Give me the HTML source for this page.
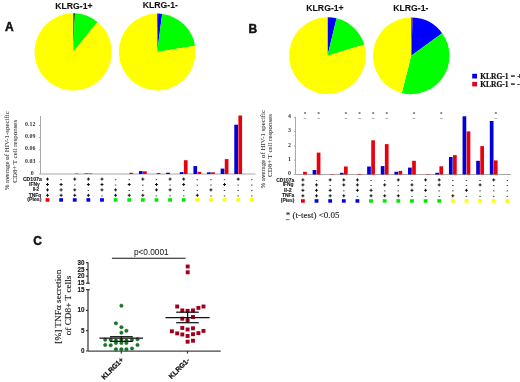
<!DOCTYPE html>
<html><head><meta charset="utf-8"><style>
*{margin:0;padding:0}
html,body{width:520px;height:382px;background:#fff;overflow:hidden}
svg{display:block;will-change:transform}
text{font-family:"Liberation Sans",sans-serif}
.pt{font-weight:bold;font-size:8.7px;text-anchor:middle;fill:#111;stroke:#111;stroke-width:0.1px}
.pl{font-weight:bold;font-size:12px;fill:#111;stroke:#111;stroke-width:0.45px}
.lg{font-family:"Liberation Serif",serif;font-weight:bold;font-size:7.5px;fill:#111;stroke:#111;stroke-width:0.2px;word-spacing:0.4px}
.ax{stroke:#A8A8A8;stroke-width:1}
.tk{font-family:"Liberation Serif",serif;font-weight:bold;font-size:5.9px;text-anchor:end;fill:#333}
.pl1{stroke:#111;stroke-width:1;fill:none}
.mi{stroke:#333;stroke-width:0.8}
.rl{font-weight:bold;font-size:4.8px;fill:#222;stroke:#222;stroke-width:0.12px}
.yt{font-family:"Liberation Serif",serif;font-size:6.9px;text-anchor:middle;fill:#333;stroke:#333;stroke-width:0.05px}
.ast{font-size:5px;text-anchor:middle;fill:#555}
.astl{stroke:#999;stroke-width:0.8}
.fn{font-family:"Liberation Serif",serif;font-size:9px;fill:#222;stroke:#222;stroke-width:0.12px}
.cax line{stroke:#333;stroke-width:1.2}
.ct{font-weight:bold;font-size:6.3px;text-anchor:end;fill:#111;stroke:#111;stroke-width:0.1px}
.cyt{font-family:"Liberation Serif",serif;font-size:9.27px;text-anchor:middle;fill:#222;stroke:#222;stroke-width:0.15px}
.pv{font-size:8.3px;text-anchor:middle;fill:#111}
.cx{font-weight:bold;font-size:7px;fill:#111;stroke:#111;stroke-width:0.25px}
</style></head>
<body><svg width="520" height="382" viewBox="0 0 520 382">
<path d="M73.20,51.90 L73.20,13.30 A38.6,38.6 0 0 1 74.95,13.34 Z" fill="#103010"/><path d="M73.20,51.90 L74.95,13.34 A38.6,38.6 0 0 1 97.49,21.90 Z" fill="#00FF00"/><path d="M73.20,51.90 L97.49,21.90 A38.6,38.6 0 1 1 73.20,13.30 Z" fill="#FFFF00"/>
<path d="M157.20,52.00 L157.20,13.60 A38.4,38.4 0 0 1 158.21,13.61 Z" fill="#000060"/><path d="M157.20,52.00 L158.21,13.61 A38.4,38.4 0 0 1 162.15,13.92 Z" fill="#0000FF"/><path d="M157.20,52.00 L162.15,13.92 A38.4,38.4 0 0 1 195.07,45.66 Z" fill="#00FF00"/><path d="M157.20,52.00 L195.07,45.66 A38.4,38.4 0 1 1 157.20,13.60 Z" fill="#FFFF00"/>
<path d="M327.50,55.65 L327.50,17.25 A38.4,38.4 0 0 1 336.59,18.34 Z" fill="#0000FF"/><path d="M327.50,55.65 L336.59,18.34 A38.4,38.4 0 0 1 364.22,44.42 Z" fill="#00FF00"/><path d="M327.50,55.65 L364.22,44.42 A38.4,38.4 0 1 1 327.50,17.25 Z" fill="#FFFF00"/>
<path d="M411.20,55.80 L411.20,17.50 A38.3,38.3 0 0 1 412.67,17.53 Z" fill="#900000"/><path d="M411.20,55.80 L412.67,17.53 A38.3,38.3 0 0 1 442.11,33.18 Z" fill="#0000FF"/><path d="M411.20,55.80 L442.11,33.18 A38.3,38.3 0 0 1 401.80,92.93 Z" fill="#00FF00"/><path d="M411.20,55.80 L401.80,92.93 A38.3,38.3 0 0 1 411.20,17.50 Z" fill="#FFFF00"/>
<text x="73.9" y="8.6" class="pt">KLRG-1+</text>
<text x="160.3" y="8.4" class="pt">KLRG-1-</text>
<text x="325" y="11" class="pt">KLRG-1+</text>
<text x="410.8" y="11" class="pt">KLRG-1-</text>
<text x="5.1" y="30.6" class="pl">A</text>
<text x="248.6" y="32.6" class="pl">B</text>
<text x="33.2" y="244.6" class="pl">C</text>
<rect x="472.2" y="73.8" width="4.8" height="4.7" fill="#0000E0"/>
<rect x="472.2" y="81.9" width="4.8" height="4.5" fill="#E00020"/>
<text x="480.2" y="79.2" class="lg">KLRG-1 = +</text>
<text x="480.2" y="87.2" class="lg">KLRG-1 = -</text>
<line x1="40.5" y1="116" x2="40.5" y2="174" class="ax"/>
<line x1="40.5" y1="174" x2="255.5" y2="174" class="ax"/>
<line x1="39.0" y1="174" x2="40.5" y2="174" class="ax"/>
<text x="33.8" y="174.6" class="tk">0</text>
<line x1="39.0" y1="161.9" x2="40.5" y2="161.9" class="ax"/>
<text x="35.4" y="162.5" class="tk">0.03</text>
<line x1="39.0" y1="149.8" x2="40.5" y2="149.8" class="ax"/>
<text x="35.4" y="150.4" class="tk">0.06</text>
<line x1="39.0" y1="137.6" x2="40.5" y2="137.6" class="ax"/>
<text x="35.4" y="138.2" class="tk">0.09</text>
<line x1="39.0" y1="125.5" x2="40.5" y2="125.5" class="ax"/>
<text x="35.4" y="126.1" class="tk">0.12</text>
<path d="M46.00,179.10h3M47.50,177.60v3" class="pl1"/>
<path d="M46.00,184.50h3M47.50,183.00v3" class="pl1"/>
<path d="M46.00,189.90h3M47.50,188.40v3" class="pl1"/>
<path d="M46.00,195.30h3M47.50,193.80v3" class="pl1"/>
<rect x="45.60" y="198.2" width="3.8" height="3.5" fill="#E80000"/>
<rect x="60.37" y="179.20" width="1.5" height="1" fill="#4a4a4a"/>
<path d="M59.62,184.50h3M61.12,183.00v3" class="pl1"/>
<path d="M59.62,189.90h3M61.12,188.40v3" class="pl1"/>
<path d="M59.62,195.30h3M61.12,193.80v3" class="pl1"/>
<rect x="59.22" y="198.2" width="3.8" height="3.5" fill="#0000E8"/>
<rect x="74.94" y="173.6" width="3.7" height="0.40" fill="#E8000C"/>
<path d="M73.24,179.10h3M74.74,177.60v3" class="pl1"/>
<rect x="73.99" y="184.60" width="1.5" height="1" fill="#4a4a4a"/>
<path d="M73.24,189.90h3M74.74,188.40v3" class="pl1"/>
<path d="M73.24,195.30h3M74.74,193.80v3" class="pl1"/>
<rect x="72.84" y="198.2" width="3.8" height="3.5" fill="#0000E8"/>
<rect x="84.46" y="173.5" width="3.7" height="0.50" fill="#0000D8"/>
<rect x="88.56" y="173.5" width="3.7" height="0.50" fill="#E8000C"/>
<path d="M86.86,179.10h3M88.36,177.60v3" class="pl1"/>
<path d="M86.86,184.50h3M88.36,183.00v3" class="pl1"/>
<rect x="87.61" y="190.00" width="1.5" height="1" fill="#4a4a4a"/>
<path d="M86.86,195.30h3M88.36,193.80v3" class="pl1"/>
<rect x="86.46" y="198.2" width="3.8" height="3.5" fill="#0000E8"/>
<path d="M100.48,179.10h3M101.98,177.60v3" class="pl1"/>
<path d="M100.48,184.50h3M101.98,183.00v3" class="pl1"/>
<path d="M100.48,189.90h3M101.98,188.40v3" class="pl1"/>
<rect x="101.23" y="195.40" width="1.5" height="1" fill="#4a4a4a"/>
<rect x="100.08" y="198.2" width="3.8" height="3.5" fill="#0000E8"/>
<rect x="114.85" y="179.20" width="1.5" height="1" fill="#4a4a4a"/>
<rect x="114.85" y="184.60" width="1.5" height="1" fill="#4a4a4a"/>
<path d="M114.10,189.90h3M115.60,188.40v3" class="pl1"/>
<path d="M114.10,195.30h3M115.60,193.80v3" class="pl1"/>
<rect x="113.70" y="198.2" width="3.8" height="3.5" fill="#00E800"/>
<rect x="129.42" y="172.8" width="3.7" height="1.20" fill="#E8000C"/>
<rect x="128.47" y="179.20" width="1.5" height="1" fill="#4a4a4a"/>
<path d="M127.72,184.50h3M129.22,183.00v3" class="pl1"/>
<rect x="128.47" y="190.00" width="1.5" height="1" fill="#4a4a4a"/>
<path d="M127.72,195.30h3M129.22,193.80v3" class="pl1"/>
<rect x="127.32" y="198.2" width="3.8" height="3.5" fill="#00E800"/>
<rect x="138.94" y="171.1" width="3.7" height="2.90" fill="#0000D8"/>
<rect x="143.04" y="171.3" width="3.7" height="2.70" fill="#E8000C"/>
<path d="M141.34,179.10h3M142.84,177.60v3" class="pl1"/>
<rect x="142.09" y="184.60" width="1.5" height="1" fill="#4a4a4a"/>
<rect x="142.09" y="190.00" width="1.5" height="1" fill="#4a4a4a"/>
<path d="M141.34,195.30h3M142.84,193.80v3" class="pl1"/>
<rect x="140.94" y="198.2" width="3.8" height="3.5" fill="#00E800"/>
<rect x="156.66" y="173.0" width="3.7" height="1.00" fill="#E8000C"/>
<rect x="155.71" y="179.20" width="1.5" height="1" fill="#4a4a4a"/>
<path d="M154.96,184.50h3M156.46,183.00v3" class="pl1"/>
<path d="M154.96,189.90h3M156.46,188.40v3" class="pl1"/>
<rect x="155.71" y="195.40" width="1.5" height="1" fill="#4a4a4a"/>
<rect x="154.56" y="198.2" width="3.8" height="3.5" fill="#00E800"/>
<rect x="166.18" y="172.7" width="3.7" height="1.30" fill="#0000D8"/>
<path d="M168.58,179.10h3M170.08,177.60v3" class="pl1"/>
<rect x="169.33" y="184.60" width="1.5" height="1" fill="#4a4a4a"/>
<path d="M168.58,189.90h3M170.08,188.40v3" class="pl1"/>
<rect x="169.33" y="195.40" width="1.5" height="1" fill="#4a4a4a"/>
<rect x="168.18" y="198.2" width="3.8" height="3.5" fill="#00E800"/>
<rect x="179.80" y="172.1" width="3.7" height="1.90" fill="#0000D8"/>
<rect x="183.90" y="160.2" width="3.7" height="13.80" fill="#E8000C"/>
<path d="M182.20,179.10h3M183.70,177.60v3" class="pl1"/>
<path d="M182.20,184.50h3M183.70,183.00v3" class="pl1"/>
<rect x="182.95" y="190.00" width="1.5" height="1" fill="#4a4a4a"/>
<rect x="182.95" y="195.40" width="1.5" height="1" fill="#4a4a4a"/>
<rect x="181.80" y="198.2" width="3.8" height="3.5" fill="#00E800"/>
<rect x="193.42" y="166.1" width="3.7" height="7.90" fill="#0000D8"/>
<rect x="197.52" y="171.8" width="3.7" height="2.20" fill="#E8000C"/>
<rect x="196.57" y="179.20" width="1.5" height="1" fill="#4a4a4a"/>
<rect x="196.57" y="184.60" width="1.5" height="1" fill="#4a4a4a"/>
<rect x="196.57" y="190.00" width="1.5" height="1" fill="#4a4a4a"/>
<path d="M195.82,195.30h3M197.32,193.80v3" class="pl1"/>
<rect x="195.42" y="198.2" width="3.8" height="3.5" fill="#FFFF00"/>
<rect x="207.04" y="172.3" width="3.7" height="1.70" fill="#0000D8"/>
<rect x="211.14" y="172.3" width="3.7" height="1.70" fill="#E8000C"/>
<rect x="210.19" y="179.20" width="1.5" height="1" fill="#4a4a4a"/>
<rect x="210.19" y="184.60" width="1.5" height="1" fill="#4a4a4a"/>
<path d="M209.44,189.90h3M210.94,188.40v3" class="pl1"/>
<rect x="210.19" y="195.40" width="1.5" height="1" fill="#4a4a4a"/>
<rect x="209.04" y="198.2" width="3.8" height="3.5" fill="#FFFF00"/>
<rect x="220.66" y="168.6" width="3.7" height="5.40" fill="#0000D8"/>
<rect x="224.76" y="159.1" width="3.7" height="14.90" fill="#E8000C"/>
<rect x="223.81" y="179.20" width="1.5" height="1" fill="#4a4a4a"/>
<path d="M223.06,184.50h3M224.56,183.00v3" class="pl1"/>
<rect x="223.81" y="190.00" width="1.5" height="1" fill="#4a4a4a"/>
<rect x="223.81" y="195.40" width="1.5" height="1" fill="#4a4a4a"/>
<rect x="222.66" y="198.2" width="3.8" height="3.5" fill="#FFFF00"/>
<rect x="234.28" y="124.7" width="3.7" height="49.30" fill="#0000D8"/>
<rect x="238.38" y="115.5" width="3.7" height="58.50" fill="#E8000C"/>
<path d="M236.68,179.10h3M238.18,177.60v3" class="pl1"/>
<rect x="237.43" y="184.60" width="1.5" height="1" fill="#4a4a4a"/>
<rect x="237.43" y="190.00" width="1.5" height="1" fill="#4a4a4a"/>
<rect x="237.43" y="195.40" width="1.5" height="1" fill="#4a4a4a"/>
<rect x="236.28" y="198.2" width="3.8" height="3.5" fill="#FFFF00"/>
<rect x="251.05" y="179.20" width="1.5" height="1" fill="#4a4a4a"/>
<rect x="251.05" y="184.60" width="1.5" height="1" fill="#4a4a4a"/>
<rect x="251.05" y="190.00" width="1.5" height="1" fill="#4a4a4a"/>
<rect x="251.05" y="195.40" width="1.5" height="1" fill="#4a4a4a"/>
<rect x="249.90" y="198.2" width="3.8" height="3.5" fill="#FFFF00"/>
<text x="22.9" y="180.9" textLength="18.90" lengthAdjust="spacingAndGlyphs" class="rl">CD107a</text>
<text x="29.1" y="185.9" textLength="10.80" lengthAdjust="spacingAndGlyphs" class="rl">IFN&#947;</text>
<text x="32.7" y="191.1" textLength="6.30" lengthAdjust="spacingAndGlyphs" class="rl">Il-2</text>
<text x="28.7" y="196.5" textLength="12.50" lengthAdjust="spacingAndGlyphs" class="rl">TNF&#945;</text>
<text x="27.3" y="201" textLength="14.20" lengthAdjust="spacingAndGlyphs" class="rl">(Pies)</text>
<text transform="translate(8.8,150.8) rotate(-90)" class="yt">% average of HIV-1-specific</text>
<text transform="translate(17.1,151.3) rotate(-90)" class="yt">CD8+ T cell responses</text>
<line x1="295.5" y1="117" x2="295.5" y2="174.5" class="ax"/>
<line x1="295.5" y1="174.5" x2="511" y2="174.5" class="ax"/>
<line x1="294.0" y1="174.5" x2="295.5" y2="174.5" class="ax"/>
<text x="290.9" y="175.1" class="tk">0</text>
<line x1="294.0" y1="160.2" x2="295.5" y2="160.2" class="ax"/>
<text x="290.9" y="160.79999999999998" class="tk">1</text>
<line x1="294.0" y1="145.9" x2="295.5" y2="145.9" class="ax"/>
<text x="290.9" y="146.5" class="tk">2</text>
<line x1="294.0" y1="131.6" x2="295.5" y2="131.6" class="ax"/>
<text x="290.9" y="132.2" class="tk">3</text>
<line x1="294.0" y1="117.3" x2="295.5" y2="117.3" class="ax"/>
<text x="290.9" y="117.89999999999999" class="tk">4</text>
<rect x="303.10" y="171.8" width="3.7" height="2.70" fill="#E8000C"/>
<path d="M301.40,179.90h3M302.90,178.40v3" class="pl1"/>
<path d="M301.40,184.90h3M302.90,183.40v3" class="pl1"/>
<path d="M301.40,190.30h3M302.90,188.80v3" class="pl1"/>
<path d="M301.40,195.80h3M302.90,194.30v3" class="pl1"/>
<rect x="301.00" y="199.2" width="3.8" height="3.5" fill="#E80000"/>
<rect x="312.63" y="170" width="3.7" height="4.50" fill="#0000D8"/>
<rect x="316.73" y="152.6" width="3.7" height="21.90" fill="#E8000C"/>
<rect x="315.78" y="180.00" width="1.5" height="1" fill="#4a4a4a"/>
<path d="M315.03,184.90h3M316.53,183.40v3" class="pl1"/>
<path d="M315.03,190.30h3M316.53,188.80v3" class="pl1"/>
<path d="M315.03,195.80h3M316.53,194.30v3" class="pl1"/>
<rect x="314.63" y="199.2" width="3.8" height="3.5" fill="#0000E8"/>
<rect x="330.36" y="174.1" width="3.7" height="0.40" fill="#E8000C"/>
<path d="M328.66,179.90h3M330.16,178.40v3" class="pl1"/>
<rect x="329.41" y="185.00" width="1.5" height="1" fill="#4a4a4a"/>
<path d="M328.66,190.30h3M330.16,188.80v3" class="pl1"/>
<path d="M328.66,195.80h3M330.16,194.30v3" class="pl1"/>
<rect x="328.26" y="199.2" width="3.8" height="3.5" fill="#0000E8"/>
<rect x="339.89" y="172.8" width="3.7" height="1.70" fill="#0000D8"/>
<rect x="343.99" y="166.5" width="3.7" height="8.00" fill="#E8000C"/>
<path d="M342.29,179.90h3M343.79,178.40v3" class="pl1"/>
<path d="M342.29,184.90h3M343.79,183.40v3" class="pl1"/>
<rect x="343.04" y="190.40" width="1.5" height="1" fill="#4a4a4a"/>
<path d="M342.29,195.80h3M343.79,194.30v3" class="pl1"/>
<rect x="341.89" y="199.2" width="3.8" height="3.5" fill="#0000E8"/>
<rect x="357.62" y="173.9" width="3.7" height="0.60" fill="#E8000C"/>
<path d="M355.92,179.90h3M357.42,178.40v3" class="pl1"/>
<path d="M355.92,184.90h3M357.42,183.40v3" class="pl1"/>
<path d="M355.92,190.30h3M357.42,188.80v3" class="pl1"/>
<rect x="356.67" y="195.90" width="1.5" height="1" fill="#4a4a4a"/>
<rect x="355.52" y="199.2" width="3.8" height="3.5" fill="#0000E8"/>
<rect x="367.15" y="166.5" width="3.7" height="8.00" fill="#0000D8"/>
<rect x="371.25" y="140.3" width="3.7" height="34.20" fill="#E8000C"/>
<rect x="370.30" y="180.00" width="1.5" height="1" fill="#4a4a4a"/>
<rect x="370.30" y="185.00" width="1.5" height="1" fill="#4a4a4a"/>
<path d="M369.55,190.30h3M371.05,188.80v3" class="pl1"/>
<path d="M369.55,195.80h3M371.05,194.30v3" class="pl1"/>
<rect x="369.15" y="199.2" width="3.8" height="3.5" fill="#00E800"/>
<rect x="380.78" y="166.1" width="3.7" height="8.40" fill="#0000D8"/>
<rect x="384.88" y="144.1" width="3.7" height="30.40" fill="#E8000C"/>
<rect x="383.93" y="180.00" width="1.5" height="1" fill="#4a4a4a"/>
<path d="M383.18,184.90h3M384.68,183.40v3" class="pl1"/>
<rect x="383.93" y="190.40" width="1.5" height="1" fill="#4a4a4a"/>
<path d="M383.18,195.80h3M384.68,194.30v3" class="pl1"/>
<rect x="382.78" y="199.2" width="3.8" height="3.5" fill="#00E800"/>
<rect x="394.41" y="171.8" width="3.7" height="2.70" fill="#0000D8"/>
<rect x="398.51" y="170.9" width="3.7" height="3.60" fill="#E8000C"/>
<path d="M396.81,179.90h3M398.31,178.40v3" class="pl1"/>
<rect x="397.56" y="185.00" width="1.5" height="1" fill="#4a4a4a"/>
<rect x="397.56" y="190.40" width="1.5" height="1" fill="#4a4a4a"/>
<path d="M396.81,195.80h3M398.31,194.30v3" class="pl1"/>
<rect x="396.41" y="199.2" width="3.8" height="3.5" fill="#00E800"/>
<rect x="408.04" y="167.6" width="3.7" height="6.90" fill="#0000D8"/>
<rect x="412.14" y="160.8" width="3.7" height="13.70" fill="#E8000C"/>
<rect x="411.19" y="180.00" width="1.5" height="1" fill="#4a4a4a"/>
<path d="M410.44,184.90h3M411.94,183.40v3" class="pl1"/>
<path d="M410.44,190.30h3M411.94,188.80v3" class="pl1"/>
<rect x="411.19" y="195.90" width="1.5" height="1" fill="#4a4a4a"/>
<rect x="410.04" y="199.2" width="3.8" height="3.5" fill="#00E800"/>
<rect x="425.77" y="174.1" width="3.7" height="0.40" fill="#E8000C"/>
<path d="M424.07,179.90h3M425.57,178.40v3" class="pl1"/>
<rect x="424.82" y="185.00" width="1.5" height="1" fill="#4a4a4a"/>
<path d="M424.07,190.30h3M425.57,188.80v3" class="pl1"/>
<rect x="424.82" y="195.90" width="1.5" height="1" fill="#4a4a4a"/>
<rect x="423.67" y="199.2" width="3.8" height="3.5" fill="#00E800"/>
<rect x="435.30" y="172.8" width="3.7" height="1.70" fill="#0000D8"/>
<rect x="439.40" y="166.3" width="3.7" height="8.20" fill="#E8000C"/>
<path d="M437.70,179.90h3M439.20,178.40v3" class="pl1"/>
<path d="M437.70,184.90h3M439.20,183.40v3" class="pl1"/>
<rect x="438.45" y="190.40" width="1.5" height="1" fill="#4a4a4a"/>
<rect x="438.45" y="195.90" width="1.5" height="1" fill="#4a4a4a"/>
<rect x="437.30" y="199.2" width="3.8" height="3.5" fill="#00E800"/>
<rect x="448.93" y="157" width="3.7" height="17.50" fill="#0000D8"/>
<rect x="453.03" y="155.1" width="3.7" height="19.40" fill="#E8000C"/>
<rect x="452.08" y="180.00" width="1.5" height="1" fill="#4a4a4a"/>
<rect x="452.08" y="185.00" width="1.5" height="1" fill="#4a4a4a"/>
<rect x="452.08" y="190.40" width="1.5" height="1" fill="#4a4a4a"/>
<path d="M451.33,195.80h3M452.83,194.30v3" class="pl1"/>
<rect x="450.93" y="199.2" width="3.8" height="3.5" fill="#FFFF00"/>
<rect x="462.56" y="116.3" width="3.7" height="58.20" fill="#0000D8"/>
<rect x="466.66" y="131.4" width="3.7" height="43.10" fill="#E8000C"/>
<rect x="465.71" y="180.00" width="1.5" height="1" fill="#4a4a4a"/>
<rect x="465.71" y="185.00" width="1.5" height="1" fill="#4a4a4a"/>
<path d="M464.96,190.30h3M466.46,188.80v3" class="pl1"/>
<rect x="465.71" y="195.90" width="1.5" height="1" fill="#4a4a4a"/>
<rect x="464.56" y="199.2" width="3.8" height="3.5" fill="#FFFF00"/>
<rect x="476.19" y="160.8" width="3.7" height="13.70" fill="#0000D8"/>
<rect x="480.29" y="146.1" width="3.7" height="28.40" fill="#E8000C"/>
<rect x="479.34" y="180.00" width="1.5" height="1" fill="#4a4a4a"/>
<path d="M478.59,184.90h3M480.09,183.40v3" class="pl1"/>
<rect x="479.34" y="190.40" width="1.5" height="1" fill="#4a4a4a"/>
<rect x="479.34" y="195.90" width="1.5" height="1" fill="#4a4a4a"/>
<rect x="478.19" y="199.2" width="3.8" height="3.5" fill="#FFFF00"/>
<rect x="489.82" y="121" width="3.7" height="53.50" fill="#0000D8"/>
<rect x="493.92" y="160.4" width="3.7" height="14.10" fill="#E8000C"/>
<path d="M492.22,179.90h3M493.72,178.40v3" class="pl1"/>
<rect x="492.97" y="185.00" width="1.5" height="1" fill="#4a4a4a"/>
<rect x="492.97" y="190.40" width="1.5" height="1" fill="#4a4a4a"/>
<rect x="492.97" y="195.90" width="1.5" height="1" fill="#4a4a4a"/>
<rect x="491.82" y="199.2" width="3.8" height="3.5" fill="#FFFF00"/>
<rect x="506.60" y="180.00" width="1.5" height="1" fill="#4a4a4a"/>
<rect x="506.60" y="185.00" width="1.5" height="1" fill="#4a4a4a"/>
<rect x="506.60" y="190.40" width="1.5" height="1" fill="#4a4a4a"/>
<rect x="506.60" y="195.90" width="1.5" height="1" fill="#4a4a4a"/>
<rect x="505.45" y="199.2" width="3.8" height="3.5" fill="#FFFF00"/>
<text x="276.2" y="181.5" textLength="18.00" lengthAdjust="spacingAndGlyphs" class="rl">CD107a</text>
<text x="282.7" y="186.2" textLength="10.80" lengthAdjust="spacingAndGlyphs" class="rl">IFNg</text>
<text x="284.1" y="191.6" textLength="7.60" lengthAdjust="spacingAndGlyphs" class="rl">Il-2</text>
<text x="281.9" y="197" textLength="12.50" lengthAdjust="spacingAndGlyphs" class="rl">TNFa</text>
<text x="280.8" y="202.3" textLength="13.60" lengthAdjust="spacingAndGlyphs" class="rl">(Pies)</text>
<text transform="translate(264.5,149.2) rotate(-90)" class="yt">% average of HIV-1 specific</text>
<text transform="translate(272.3,145.5) rotate(-90)" class="yt">CD8+ T cell responses</text>
<rect x="304.00" y="112" width="2" height="2" rx="0.6" fill="#8a8a8a"/>
<line x1="303.70" y1="118.4" x2="306.30" y2="118.4" class="astl"/>
<rect x="317.63" y="112" width="2" height="2" rx="0.6" fill="#8a8a8a"/>
<line x1="317.33" y1="118.4" x2="319.93" y2="118.4" class="astl"/>
<rect x="344.89" y="112" width="2" height="2" rx="0.6" fill="#8a8a8a"/>
<line x1="344.59" y1="118.4" x2="347.19" y2="118.4" class="astl"/>
<rect x="358.52" y="112" width="2" height="2" rx="0.6" fill="#8a8a8a"/>
<line x1="358.22" y1="118.4" x2="360.82" y2="118.4" class="astl"/>
<rect x="372.15" y="112" width="2" height="2" rx="0.6" fill="#8a8a8a"/>
<line x1="371.85" y1="118.4" x2="374.45" y2="118.4" class="astl"/>
<rect x="385.78" y="112" width="2" height="2" rx="0.6" fill="#8a8a8a"/>
<line x1="385.48" y1="118.4" x2="388.08" y2="118.4" class="astl"/>
<rect x="413.04" y="112" width="2" height="2" rx="0.6" fill="#8a8a8a"/>
<line x1="412.74" y1="118.4" x2="415.34" y2="118.4" class="astl"/>
<rect x="440.30" y="112" width="2" height="2" rx="0.6" fill="#8a8a8a"/>
<line x1="440.00" y1="118.4" x2="442.60" y2="118.4" class="astl"/>
<rect x="494.82" y="112" width="2" height="2" rx="0.6" fill="#8a8a8a"/>
<line x1="494.52" y1="118.4" x2="497.12" y2="118.4" class="astl"/>
<text x="285.8" y="217.8" class="fn">* (t-test) &lt;0.05</text>
<line x1="285.8" y1="219.6" x2="289.4" y2="219.6" stroke="#222" stroke-width="0.7"/>
<g class="cax">
<line x1="88" y1="262.2" x2="88" y2="283.4"/>
<line x1="88" y1="289.7" x2="88" y2="351"/>
<line x1="88" y1="351.2" x2="220.7" y2="351.2" style="stroke:#444;stroke-width:1.3"/>
<line x1="86" y1="262.6" x2="88" y2="262.6"/>
<line x1="86" y1="269.7" x2="88" y2="269.7"/>
<line x1="86" y1="276.2" x2="88" y2="276.2"/>
<line x1="86" y1="283.2" x2="89.8" y2="283.2"/>
<line x1="86" y1="289.7" x2="89.8" y2="289.7"/>
<line x1="86" y1="310.3" x2="88" y2="310.3"/>
<line x1="86" y1="330.6" x2="88" y2="330.6"/>
<line x1="86" y1="351" x2="88" y2="351"/>
<line x1="121.3" y1="351" x2="121.3" y2="353.5"/>
<line x1="187.5" y1="351" x2="187.5" y2="353.5"/>
</g>
<text x="84.4" y="264.5" class="ct">30</text>
<text x="84.4" y="271.59999999999997" class="ct">25</text>
<text x="84.4" y="278.09999999999997" class="ct">20</text>
<text x="84.4" y="284.79999999999995" class="ct">15</text>
<text x="84.4" y="291.59999999999997" class="ct">15</text>
<text x="84.4" y="312.2" class="ct">10</text>
<text x="84.4" y="332.5" class="ct">5</text>
<text x="84.4" y="352.9" class="ct">0</text>
<text transform="translate(61,306.6) rotate(-90)" class="cyt">[%] TNF&#945; secretion</text>
<text transform="translate(70.9,305.5) rotate(-90)" class="cyt">of CD8+ T cells</text>
<line x1="111.9" y1="258.3" x2="185.6" y2="258.3" stroke="#111" stroke-width="1.1"/>
<text x="151.3" y="255" class="pv">p&lt;0.0001</text>
<circle cx="121.4" cy="305.7" r="1.75" fill="#177A28" stroke="#0E5A1A" stroke-width="0.4"/>
<circle cx="115.9" cy="323.3" r="1.75" fill="#177A28" stroke="#0E5A1A" stroke-width="0.4"/>
<circle cx="121.4" cy="327.2" r="1.75" fill="#177A28" stroke="#0E5A1A" stroke-width="0.4"/>
<circle cx="126.4" cy="330.8" r="1.75" fill="#177A28" stroke="#0E5A1A" stroke-width="0.4"/>
<circle cx="121.4" cy="332.7" r="1.75" fill="#177A28" stroke="#0E5A1A" stroke-width="0.4"/>
<circle cx="105.2" cy="339.8" r="1.75" fill="#177A28" stroke="#0E5A1A" stroke-width="0.4"/>
<circle cx="110.7" cy="339.8" r="1.75" fill="#177A28" stroke="#0E5A1A" stroke-width="0.4"/>
<circle cx="115.9" cy="340.6" r="1.75" fill="#177A28" stroke="#0E5A1A" stroke-width="0.4"/>
<circle cx="121.4" cy="339.8" r="1.75" fill="#177A28" stroke="#0E5A1A" stroke-width="0.4"/>
<circle cx="126.4" cy="340.6" r="1.75" fill="#177A28" stroke="#0E5A1A" stroke-width="0.4"/>
<circle cx="132" cy="339.8" r="1.75" fill="#177A28" stroke="#0E5A1A" stroke-width="0.4"/>
<circle cx="137.5" cy="339.3" r="1.75" fill="#177A28" stroke="#0E5A1A" stroke-width="0.4"/>
<circle cx="105.2" cy="345" r="1.75" fill="#177A28" stroke="#0E5A1A" stroke-width="0.4"/>
<circle cx="110.7" cy="345.3" r="1.75" fill="#177A28" stroke="#0E5A1A" stroke-width="0.4"/>
<circle cx="115.9" cy="343" r="1.75" fill="#177A28" stroke="#0E5A1A" stroke-width="0.4"/>
<circle cx="121.4" cy="343" r="1.75" fill="#177A28" stroke="#0E5A1A" stroke-width="0.4"/>
<circle cx="126.4" cy="343" r="1.75" fill="#177A28" stroke="#0E5A1A" stroke-width="0.4"/>
<circle cx="137.5" cy="345" r="1.75" fill="#177A28" stroke="#0E5A1A" stroke-width="0.4"/>
<circle cx="115.9" cy="349.2" r="1.75" fill="#177A28" stroke="#0E5A1A" stroke-width="0.4"/>
<circle cx="121.4" cy="349.2" r="1.75" fill="#177A28" stroke="#0E5A1A" stroke-width="0.4"/>
<circle cx="126.4" cy="349.2" r="1.75" fill="#177A28" stroke="#0E5A1A" stroke-width="0.4"/>
<circle cx="132" cy="348.5" r="1.75" fill="#177A28" stroke="#0E5A1A" stroke-width="0.4"/>
<g stroke="#111" stroke-width="1.25">
<line x1="99.4" y1="338.2" x2="143" y2="338.2"/>
<line x1="110" y1="336.7" x2="132.7" y2="336.7"/>
<line x1="110" y1="341.4" x2="132.7" y2="341.4"/>
<line x1="121.4" y1="336.7" x2="121.4" y2="341.4"/>
</g>
<rect x="185.75" y="264.55" width="3.9" height="3.9" fill="#A0001E"/>
<rect x="185.75" y="270.35" width="3.9" height="3.9" fill="#A0001E"/>
<rect x="175.25" y="304.55" width="3.9" height="3.9" fill="#A0001E"/>
<rect x="196.45" y="305.95" width="3.9" height="3.9" fill="#A0001E"/>
<rect x="201.55" y="304.55" width="3.9" height="3.9" fill="#A0001E"/>
<rect x="180.35" y="308.45" width="3.9" height="3.9" fill="#A0001E"/>
<rect x="185.65" y="308.85" width="3.9" height="3.9" fill="#A0001E"/>
<rect x="191.05" y="308.45" width="3.9" height="3.9" fill="#A0001E"/>
<rect x="180.35" y="316.75" width="3.9" height="3.9" fill="#A0001E"/>
<rect x="191.05" y="315.05" width="3.9" height="3.9" fill="#A0001E"/>
<rect x="185.65" y="318.15" width="3.9" height="3.9" fill="#A0001E"/>
<rect x="180.35" y="326.05" width="3.9" height="3.9" fill="#A0001E"/>
<rect x="185.65" y="327.55" width="3.9" height="3.9" fill="#A0001E"/>
<rect x="191.05" y="326.35" width="3.9" height="3.9" fill="#A0001E"/>
<rect x="169.95" y="329.35" width="3.9" height="3.9" fill="#A0001E"/>
<rect x="175.25" y="331.45" width="3.9" height="3.9" fill="#A0001E"/>
<rect x="180.35" y="332.55" width="3.9" height="3.9" fill="#A0001E"/>
<rect x="185.65" y="334.05" width="3.9" height="3.9" fill="#A0001E"/>
<rect x="191.05" y="332.25" width="3.9" height="3.9" fill="#A0001E"/>
<rect x="196.45" y="331.15" width="3.9" height="3.9" fill="#A0001E"/>
<rect x="201.55" y="328.95" width="3.9" height="3.9" fill="#A0001E"/>
<rect x="185.65" y="339.75" width="3.9" height="3.9" fill="#A0001E"/>
<rect x="191.05" y="338.75" width="3.9" height="3.9" fill="#A0001E"/>
<g stroke="#111" stroke-width="1.25">
<line x1="165.5" y1="317.6" x2="209.7" y2="317.6"/>
<line x1="176.2" y1="312.2" x2="198.8" y2="312.2"/>
<line x1="176.2" y1="322.7" x2="198.8" y2="322.7"/>
<line x1="187.6" y1="312.2" x2="187.6" y2="322.7"/>
</g>
<text transform="translate(104.3,379.9) rotate(-45)" class="cx">KLRG1+</text>
<text transform="translate(171.6,379.2) rotate(-45)" class="cx">KLRG1-</text>
</svg></body></html>
